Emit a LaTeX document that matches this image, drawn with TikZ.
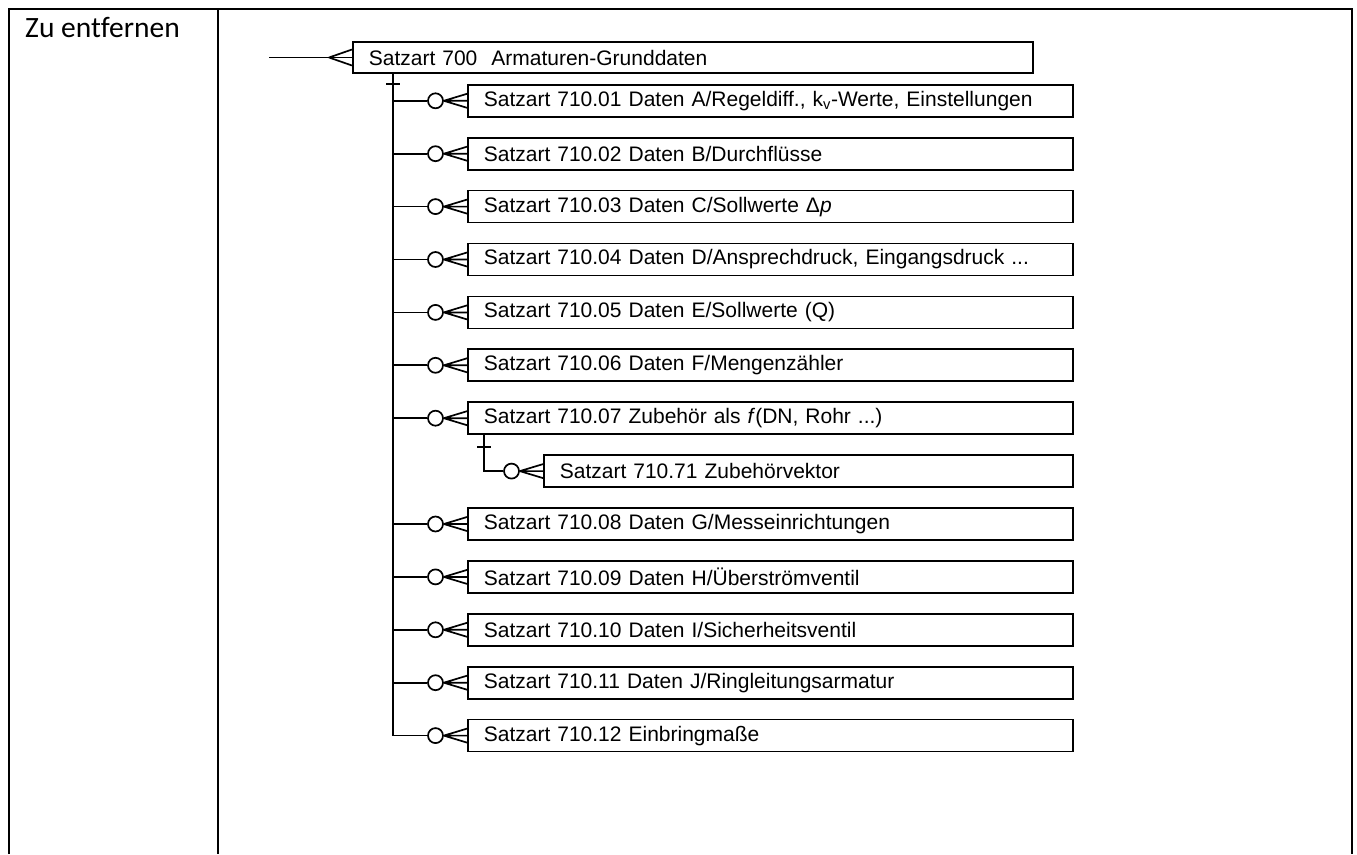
\documentclass[tikz,border=0pt]{standalone}
\usepackage{fontspec}
\setmainfont{Liberation Sans}
\newfontfamily\calibrifont[Ligatures=NoCommon]{Carlito}
\usetikzlibrary{positioning, calc}

\tikzset{
  satz/.style={draw, line width=1.7pt, anchor=west, text width=573pt, inner xsep=16pt, inner ysep=0pt, minimum height=32pt, align=left, font=\fontsize{21}{24}\selectfont},
  kreis/.style={draw, circle, line width=1.7pt, minimum size=15pt, inner sep=0pt},
  verb/.style={line width=1.7pt},
  rahmen/.style={line width=2.7pt},
}

% Kraehenfuss mit Kreis vor einem Satzkasten
\newcommand{\kante}[1]{%
  \node[kreis] (o#1) at ($(s#1.west)+(-31.5,0)$) {};
  \draw[verb] (o#1.east) -- (s#1.west)
    (o#1.east) -- ($(s#1.west)+(0,-7)$)
    (o#1.east) -- ($(s#1.west)+(0,7)$);
}

\begin{document}
\begin{tikzpicture}[x=1pt, y=-1pt]
  \useasboundingbox (0,0) rectangle (1357,854);

  % Tabelle
  \draw[rahmen] (9,854) -- (9,9) -- (1352,9) -- (1352,854);
  \draw[rahmen] (218,9) -- (218,854);
  \node[anchor=base west, inner sep=0pt, font=\calibrifont\fontsize{29.5}{33}\selectfont] (titel) at (25,37) {Zu entfernen};

  % Kopfsatz
  \node[satz, text width=648pt, minimum height=31pt] (s700) at (352,57.5) {Satzart 700\ \ Armaturen-Grunddaten};
  \coordinate (eingang) at (269,57.5);
  \draw[verb] (eingang) -- (s700.west);
  \draw[verb] ($(s700.west)+(-23,0)$) -- ($(s700.west)+(0,-8)$)
    ($(s700.west)+(-23,0)$) -- ($(s700.west)+(0,8)$);

  % Untersaetze
  \node[satz] (s01) at (467,100.8) {Satzart 710.01 Daten A/Regeldiff., k\textsubscript{v}-Werte, Einstellungen};
  \node[satz] (s02) at (467,153.7) {Satzart 710.02 Daten B/Durchflüsse};
  \node[satz] (s03) at (467,206.6) {Satzart 710.03 Daten C/Sollwerte Δ\textit{p}};
  \node[satz] (s04) at (467,259.5) {Satzart 710.04 Daten D/Ansprechdruck, Eingangsdruck ...};
  \node[satz] (s05) at (467,312.4) {Satzart 710.05 Daten E/Sollwerte (Q)};
  \node[satz] (s06) at (467,365.3) {Satzart 710.06 Daten F/Mengenzähler};
  \node[satz] (s07) at (467,418.2) {Satzart 710.07 Zubehör als \textit{f}(DN, Rohr ...)};
  \node[satz, text width=497pt] (s71) at (543,471.1) {Satzart 710.71 Zubehörvektor};
  \node[satz] (s08) at (467,524.0) {Satzart 710.08 Daten G/Messeinrichtungen};
  \node[satz] (s09) at (467,576.9) {Satzart 710.09 Daten H/Überströmventil};
  \node[satz] (s10) at (467,629.8) {Satzart 710.10 Daten I/Sicherheitsventil};
  \node[satz] (s11) at (467,682.7) {Satzart 710.11 Daten J/Ringleitungsarmatur};
  \node[satz] (s12) at (467,735.6) {Satzart 710.12 Einbringmaße};

  \foreach \n in {01,02,03,04,05,06,07,71,08,09,10,11,12} {\kante{\n}}

  % Stamm vom Kopfsatz
  \coordinate (stamm) at ($(s700.south west)+(41,0)$);
  \draw[verb] (stamm) |- (o12.west);
  \draw[verb] ($(stamm)+(-7,10)$) -- ++(14,0);
  \foreach \n in {01,02,03,04,05,06,07,08,09,10,11} {
    \draw[verb] (stamm |- o\n.west) -- (o\n.west);
  }

  % Zubehoervektor unter 710.07
  \coordinate (zweig) at ($(s07.south west)+(17,0)$);
  \draw[verb] (zweig) |- (o71.west);
  \draw[verb] ($(zweig)+(-7,12)$) -- ++(14,0);
\end{tikzpicture}
\end{document}
